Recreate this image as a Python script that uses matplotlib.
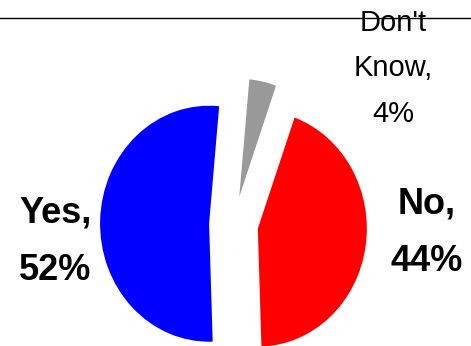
import matplotlib
matplotlib.use("Agg")
import matplotlib.pyplot as plt
from matplotlib.lines import Line2D

# survey answers
labels = ["Yes", "No", "Don't Know"]
shares = [52, 44, 4]
colors = ["#0000FF", "#FF0000", "#999999"]
explode = [0.225, 0.225, 0.24]

W, H = 471, 346
fig = plt.figure(figsize=(W / 100, H / 100), dpi=100)
ax = fig.add_axes([0, 0, 1, 1])

# pie is a bit squashed sideways, so use an unequal aspect
cx, cy, rx, ry = 233.6, 224.5, 109.0, 118.0
ax.pie(shares, colors=colors, explode=explode, startangle=84.7,
       counterclock=True, radius=1.0, wedgeprops=dict(linewidth=0))
ax.set_aspect("auto")
ax.set_xlim((0 - cx) / rx, (W - cx) / rx)
ax.set_ylim((cy - H) / ry, (cy - 0) / ry)
ax.axis("off")

# line across the top
fig.add_artist(Line2D([0, 1], [1 - 18 / H] * 2, color="black", lw=1.0))

font = "Liberation Sans"
fig.text(55 / W, 1 - 242 / H, f"{labels[0]},\n{shares[0]}%", ha="center", va="center",
         fontsize=26, fontweight="bold", family=font, linespacing=1.85)
fig.text(427 / W, 1 - 233 / H, f"{labels[1]},\n{shares[1]}%", ha="center", va="center",
         fontsize=26, fontweight="bold", family=font, linespacing=1.85)
fig.text(393 / W, 1 - 68.5 / H, "Don't\nKnow,\n" + f"{shares[2]}%", ha="center", va="center",
         fontsize=21, family=font, linespacing=1.78)

fig.savefig("out.png", dpi=100)
